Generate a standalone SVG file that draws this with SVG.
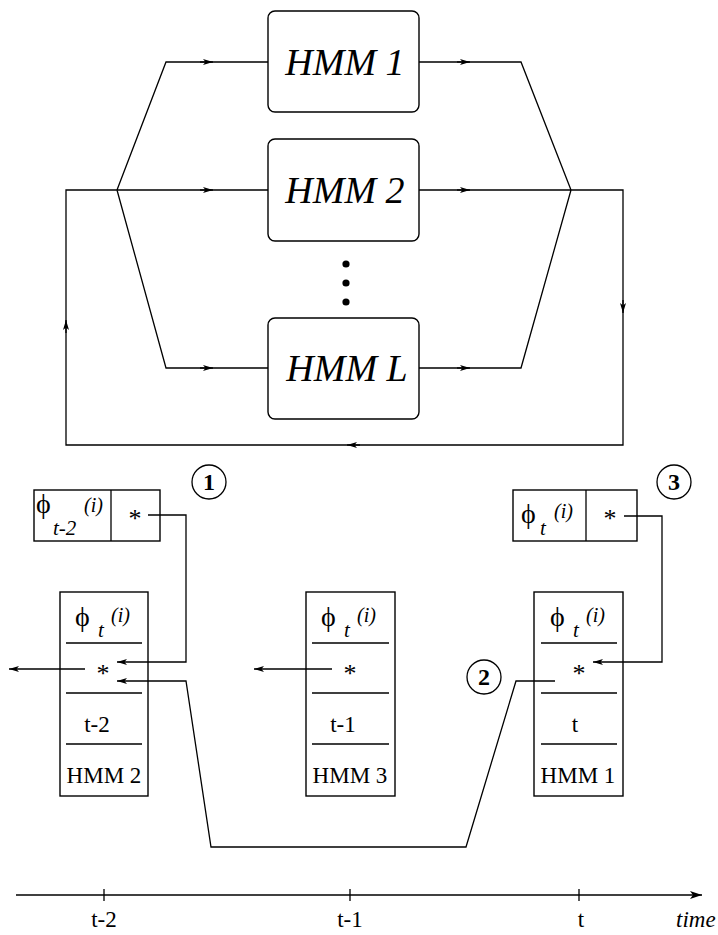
<svg xmlns="http://www.w3.org/2000/svg" width="718" height="935" viewBox="0 0 718 935">
<defs>
<marker id="ah" viewBox="0 0 10 6" refX="10" refY="3" markerWidth="10" markerHeight="6" markerUnits="userSpaceOnUse" orient="auto">
<path d="M0,0 L10,3 L0,6 L2.5,3 z" fill="#000"/>
</marker>
<marker id="ax" viewBox="0 0 12 8" refX="12" refY="4" markerWidth="12" markerHeight="8" markerUnits="userSpaceOnUse" orient="auto">
<path d="M0,0 L12,4 L0,8 L3,4 z" fill="#000"/>
</marker>
</defs>
<style>
.ln{fill:none;stroke:#000;stroke-width:1.3}
.bx{fill:none;stroke:#000;stroke-width:1.4}
.ar{fill:none;stroke:#000;stroke-width:1.3;marker-end:url(#ah)}
text{fill:#000}
.big{font-family:"Liberation Serif","DejaVu Serif",serif;font-style:italic;font-size:38px;text-anchor:middle}
.t{font-family:"Liberation Serif","DejaVu Serif",serif;font-size:23px}
.c{text-anchor:middle}
.st{font-family:"Liberation Serif","DejaVu Serif",serif;font-size:26px;text-anchor:middle}
.phi{font-family:"Liberation Serif","DejaVu Serif",serif;font-size:28px}
.sub{font-family:"Liberation Serif","DejaVu Serif",serif;font-style:italic;font-size:21px}
.sup{font-family:"Liberation Serif","DejaVu Serif",serif;font-style:italic;font-size:20px}
.num{font-family:"Liberation Serif","DejaVu Serif",serif;font-weight:bold;font-size:24px;text-anchor:middle}
.it{font-family:"Liberation Serif","DejaVu Serif",serif;font-style:italic;font-size:23px}
</style>
<rect width="718" height="935" fill="#fff"/>

<g id="hmm1">
<rect class="bx" x="268" y="11" width="151" height="101" rx="7"/>
<text class="big" x="345" y="75">HMM 1</text>
</g>
<g id="hmm2">
<rect class="bx" x="268" y="139" width="151" height="102" rx="7"/>
<text class="big" x="345" y="203">HMM 2</text>
</g>
<g id="dots">
<circle cx="346" cy="264" r="3.6"/>
<circle cx="346" cy="283" r="3.6"/>
<circle cx="346" cy="302" r="3.6"/>
</g>
<g id="hmmL">
<rect class="bx" x="268" y="318" width="151" height="101" rx="7"/>
<text class="big" x="347" y="381">HMM L</text>
</g>

<g id="entry-t2">
<rect class="bx" x="34" y="490" width="126" height="51"/>
<line class="ln" x1="111" y1="490" x2="111" y2="541"/>
<text class="phi" x="36" y="513">ϕ</text>
<text class="sub" x="53" y="535">t-2</text>
<text class="sup" x="84" y="512">(i)</text>
<text class="st" x="135" y="527">*</text>
</g>
<g id="entry-t">
<rect class="bx" x="513" y="490" width="124" height="51"/>
<line class="ln" x1="586" y1="490" x2="586" y2="541"/>
<text class="phi" x="521" y="523">ϕ</text>
<text class="sub" x="540" y="535">t</text>
<text class="sup" x="554" y="518">(i)</text>
<text class="st" x="610" y="527">*</text>
</g>

<g id="circle1">
<circle class="ln" cx="209" cy="482" r="17"/>
<text class="num" x="209" y="490">1</text>
</g>
<g id="circle3">
<circle class="ln" cx="674" cy="482" r="17"/>
<text class="num" x="674" y="490">3</text>
</g>
<g id="circle2">
<circle class="ln" cx="484" cy="677" r="17"/>
<text class="num" x="484" y="685">2</text>
</g>

<g id="cell-hmm2">
<rect class="bx" x="60" y="592" width="88" height="204"/>
<path class="ln" d="M66,643 H142 M66,693 H142 M66,744 H142"/>
<text class="phi" x="75" y="626">ϕ</text>
<text class="sub" x="98" y="637">t</text>
<text class="sup" x="111" y="622">(i)</text>
<text class="st" x="103" y="682">*</text>
<text class="t c" x="97" y="732">t-2</text>
<text class="t c" x="104" y="783">HMM 2</text>
</g>
<g id="cell-hmm3">
<rect class="bx" x="306" y="592" width="89" height="204"/>
<path class="ln" d="M312,643 H389 M312,693 H389 M312,744 H389"/>
<text class="phi" x="321" y="626">ϕ</text>
<text class="sub" x="344" y="637">t</text>
<text class="sup" x="357" y="622">(i)</text>
<text class="st" x="350" y="682">*</text>
<text class="t c" x="343" y="732">t-1</text>
<text class="t c" x="350" y="783">HMM 3</text>
</g>
<g id="cell-hmm1">
<rect class="bx" x="534" y="592" width="89" height="204"/>
<path class="ln" d="M541,643 H617 M541,693 H617 M541,744 H617"/>
<text class="phi" x="550" y="626">ϕ</text>
<text class="sub" x="573" y="637">t</text>
<text class="sup" x="586" y="622">(i)</text>
<text class="st" x="579" y="682">*</text>
<text class="t c" x="575" y="732">t</text>
<text class="t c" x="578" y="783">HMM 1</text>
</g>

<g id="axis">
<path class="ln" d="M16,895 L702,895" marker-end="url(#ax)"/>
<path class="ln" d="M104,889 V901 M350,889 V901 M579,889 V901"/>
<text class="t c" x="104" y="927">t-2</text>
<text class="t c" x="350" y="927">t-1</text>
<text class="t c" x="581" y="927">t</text>
<text class="it" x="676" y="927">time</text>
</g>

<g id="connectors">
<path class="ln" d="M117,190 L166,62 L268,62 M117,190 L268,190 M117,190 L166,368 L268,368"/>
<path class="ln" d="M419,62 L521,62 L571,190 M419,190 L571,190 M419,368 L521,368 L571,190"/>
<path class="ln" d="M571,190 L623,190 L623,445 L66,445 L66,190 L117,190"/>
<path class="ar" d="M200,62 L213,62"/>
<path class="ar" d="M200,190 L213,190"/>
<path class="ar" d="M200,368 L213,368"/>
<path class="ar" d="M457,62 L470,62"/>
<path class="ar" d="M457,190 L470,190"/>
<path class="ar" d="M457,368 L470,368"/>
<path class="ar" d="M623,300 L623,313"/>
<path class="ar" d="M360,445 L347,445"/>
<path class="ar" d="M66,333 L66,320"/>
<path class="ar" d="M148,515 L186,515 L186,662 L117,662"/>
<path class="ar" d="M555,681 L516,681 L466,847 L211,847 L186,681 L117,681"/>
<path class="ar" d="M624,516 L662,516 L662,662 L593,662"/>
<path class="ar" d="M85,669 L9,669"/>
<path class="ar" d="M332,669 L254,669"/>
</g>
</svg>
